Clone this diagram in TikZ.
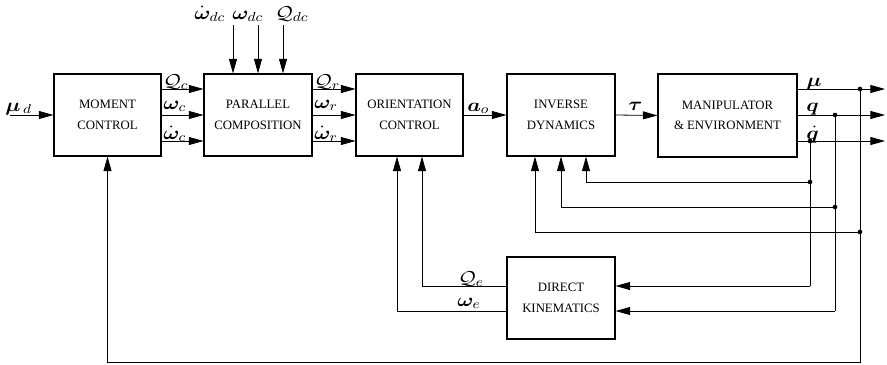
\documentclass[tikz,border=0pt]{standalone}
\usepackage{fix-cm}
\usepackage{amsmath}
\usepackage{bm}
\usepackage{fontspec}
\setmainfont{Liberation Serif}
\usetikzlibrary{arrows.meta}
% slightly widened math for the signal names
\newcommand{\sig}[1]{\scalebox{1.15}[1]{$#1$}}

\begin{document}
\begin{tikzpicture}[x=0.75pt,y=-0.75pt,
  block/.style={draw,line width=0.8pt,inner sep=0pt,align=center,
    minimum width=81pt,minimum height=61.5pt,
    font=\fontsize{9.6}{15.5}\selectfont},
  sig/.style={line width=0.6pt,-{Triangle[length=11pt,width=6pt]}},
  wire/.style={line width=0.6pt},
  lbl/.style={anchor=base west,inner sep=0pt,font=\fontsize{14}{14}\selectfont},
  junc/.style={circle,fill,inner sep=0pt,minimum size=3.5pt}]
\useasboundingbox (0,0) rectangle (887,364);

% blocks
\node[block,minimum width=80.25pt] (mc) at (107.5,115) {MOMENT\\CONTROL};
\node[block] (pc) at (258,115) {PARALLEL\\COMPOSITION};
\node[block,minimum width=80.25pt] (oc) at (409.5,115) {ORIENTATION\\CONTROL};
\node[block] (id) at (561,115) {INVERSE\\DYNAMICS};
\node[block,minimum width=104.25pt,minimum height=62.25pt] (me) at (727.5,115.5) {MANIPULATOR\\\& ENVIRONMENT};
\node[block] (dk) at (561,298) {DIRECT\\KINEMATICS};

% signal rows and free ends
\coordinate (ra) at (0,89);
\coordinate (rb) at (0,115);
\coordinate (rc) at (0,141);
\coordinate (mud) at (10,115);
\coordinate (t1) at (233,25);
\coordinate (t2) at (258,25);
\coordinate (t3) at (283,25);
\coordinate (oa) at (885,89);
\coordinate (ob) at (885,115);
\coordinate (oc3) at (885,141);

% forward path
\draw[sig] (mud) -- (mc.west);
\foreach \r in {ra,rb,rc}{
  \draw[sig] (mc.east |- \r) -- (pc.west |- \r);
  \draw[sig] (pc.east |- \r) -- (oc.west |- \r);
}
\foreach \t in {t1,t2,t3}{
  \draw[sig] (\t) -- (\t |- pc.north);
}
\draw[sig] (oc.east) -- (id.west);
\draw[sig] (id.east) -- (me.west);
\draw[sig] (me.east |- oa) -- (oa);
\draw[sig] (me.east |- ob) -- (ob);
\draw[sig] (me.east |- oc3) -- (oc3);

% branch points
\node[junc] (jmu) at (860,89) {};
\node[junc] (jq) at (835,115) {};
\node[junc] (jqd) at (810,141) {};
\node[junc] (jqd2) at (810,182) {};
\node[junc] (jq2) at (835,207) {};
\node[junc] (jmu2) at (860,232) {};
\coordinate (cqd) at (810,286);
\coordinate (cq) at (835,311);
\coordinate (cmu) at (860,362.5);

% feedback paths
\draw[wire] (jqd.center) -- (cqd);
\draw[sig] (cqd) -- (dk.east |- cqd);
\draw[wire] (jq.center) -- (cq);
\draw[sig] (cq) -- (dk.east |- cq);
\draw[sig] (jmu.center) -- (cmu) -- (mc.south |- cmu) -- (mc.south);
\draw[sig] (jqd2.center) -| ([xshift=18.75pt]id.south);
\draw[sig] (jq2.center) -| (id.south);
\draw[sig] (jmu2.center) -| ([xshift=-19.5pt]id.south);
\draw[sig] (dk.west |- cqd) -| ([xshift=9.375pt]oc.south);
\draw[sig] (dk.west |- cq) -| ([xshift=-9.375pt]oc.south);

% signal labels
\node[lbl] (lmud) at (5,111) {\sig{\bm{\mu}_{\,d}}};
\node[lbl] (lqc) at (163,87) {\sig{\mathcal{Q}_c}};
\node[lbl] (lwc) at (163,109) {\sig{\bm{\omega}_c}};
\node[lbl] (lwdc) at (163,139) {\sig{\dot{\bm{\omega}}_c}};
\node[lbl] (lqr) at (314,87) {\sig{\mathcal{Q}_r}};
\node[lbl] (lwr) at (314,108) {\sig{\bm{\omega}_r}};
\node[lbl] (lwdr) at (314,139) {\sig{\dot{\bm{\omega}}_r}};
\node[lbl] (lwddc) at (194,19) {\sig{\dot{\bm{\omega}}_{dc}}};
\node[lbl] (lwdcc) at (232,19) {\sig{\bm{\omega}_{dc}}};
\node[lbl] (lqdc) at (275,19) {\sig{\mathcal{Q}_{dc}}};
\node[lbl] (lao) at (467,111) {\sig{\bm{a}_o}};
\node[lbl] (ltau) at (628,110) {\sig{\bm{\tau}}};
\node[lbl] (lmu) at (806,86) {\sig{\bm{\mu}}};
\node[lbl] (lq) at (806,111) {\sig{\bm{q}}};
\node[lbl] (lqd) at (806,139) {\sig{\dot{\bm{q}}}};
\node[lbl] (lqe) at (458,284) {\sig{\mathcal{Q}_e}};
\node[lbl] (lwe) at (457,306) {\sig{\bm{\omega}_e}};
\end{tikzpicture}
\end{document}
